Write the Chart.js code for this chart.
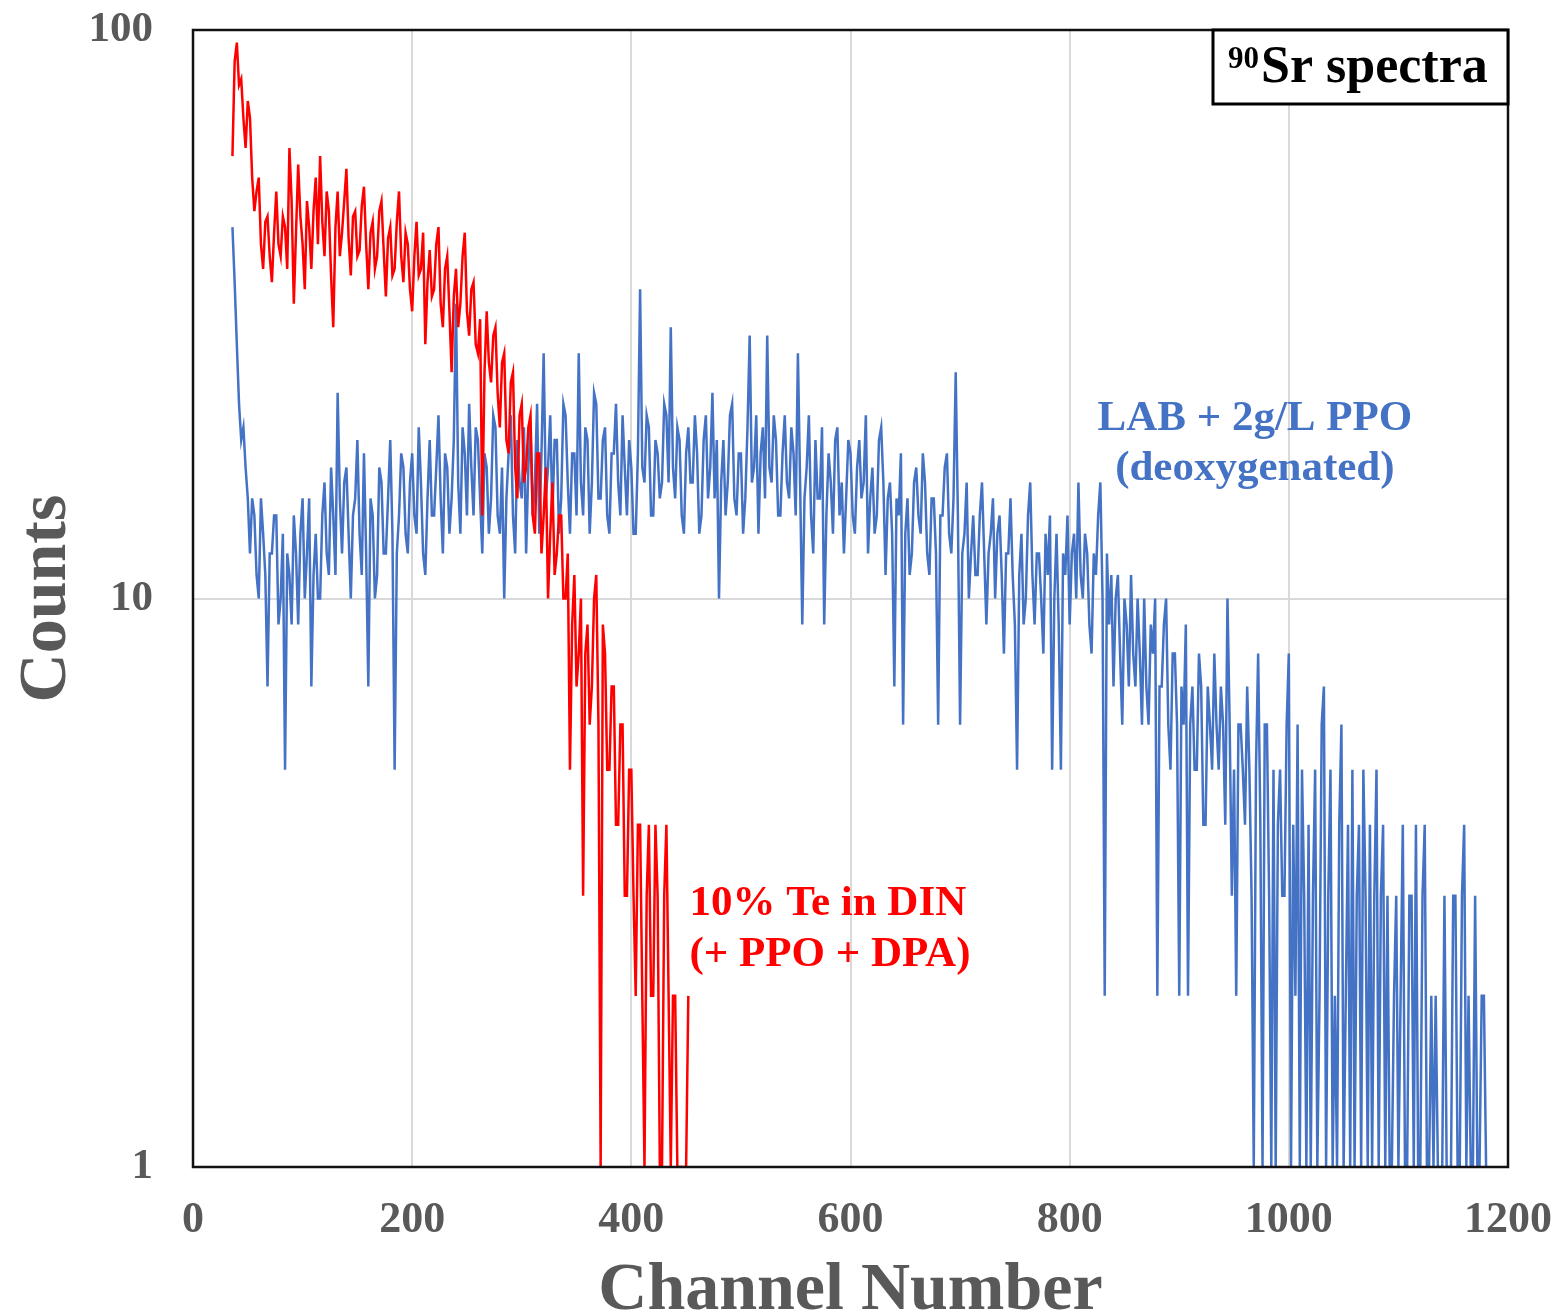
<!DOCTYPE html>
<html>
<head>
<meta charset="utf-8">
<script src="https://cdn.jsdelivr.net/npm/chart.js@4/dist/chart.umd.min.js"></script>
<style>
  body { margin: 0; background: #fff; }
  #wrap { width: 1558px; height: 1313px; }
</style>
</head>
<body>
<div id="wrap"><canvas id="spectra"></canvas></div>
<script>
// 90Sr spectra — counts per channel (every 2nd channel)

const CH_STEP    = 2;
const BLUE_START = 36;
const RED_START  = 36;

const xTicks = [0, 200, 400, 600, 800, 1000, 1200];
const yTicks = [1, 10, 100];

// LAB + 2g/L PPO (deoxygenated), channels 36..1180
const blueCounts = [
  45, 36, 28, 22, 19, 20, 17, 15, 12, 15, 14, 11, 10, 15, 13, 11, 7, 12, 12, 14,
  14, 9, 10, 13, 5, 12, 11, 9, 14, 12, 9, 13, 15, 10, 12, 15, 7, 11, 13, 10,
  10, 14, 16, 12, 11, 17, 14, 11, 23, 15, 12, 16, 17, 13, 10, 14, 15, 19, 13, 11,
  18, 12, 7, 15, 14, 10, 11, 17, 16, 12, 12, 15, 19, 13, 5, 12, 14, 18, 17, 13,
  12, 16, 18, 14, 13, 20, 16, 12, 11, 15, 19, 14, 14, 17, 21, 15, 12, 18, 17, 13,
  15, 19, 33, 16, 13, 20, 18, 14, 22, 17, 14, 20, 19, 15, 12, 18, 17, 13, 15, 21,
  20, 14, 13, 17, 10, 15, 18, 21, 14, 12, 19, 16, 15, 20, 12, 17, 20, 14, 16, 22,
  13, 18, 27, 15, 17, 21, 14, 19, 19, 13, 15, 22, 21, 16, 13, 18, 18, 14, 27, 16,
  14, 20, 19, 13, 16, 23, 22, 15, 15, 19, 20, 14, 13, 18, 18, 22, 16, 14, 21, 17,
  14, 19, 17, 13, 13, 18, 35, 17, 16, 21, 20, 14, 14, 19, 18, 15, 16, 22, 21, 16,
  30, 17, 15, 20, 19, 14, 13, 18, 20, 16, 16, 21, 18, 13, 14, 19, 21, 15, 17, 23,
  15, 19, 10, 16, 19, 14, 16, 21, 22, 15, 14, 18, 18, 13, 15, 20, 29, 16, 17, 21,
  13, 18, 20, 15, 29, 17, 16, 21, 19, 14, 14, 18, 21, 16, 15, 20, 18, 14, 27, 16,
  9, 15, 17, 21, 14, 12, 19, 15, 15, 20, 9, 14, 18, 16, 13, 19, 20, 14, 16, 12,
  15, 19, 18, 14, 13, 17, 19, 15, 16, 21, 12, 15, 17, 13, 14, 19, 20, 16, 11, 15,
  16, 13, 7, 15, 14, 18, 6, 13, 15, 11, 12, 16, 17, 14, 13, 18, 16, 12, 11, 15,
  15, 12, 6, 14, 14, 17, 18, 13, 12, 15, 25, 14, 6, 12, 13, 16, 10, 12, 14, 11,
  11, 14, 16, 12, 9, 12, 13, 15, 10, 13, 14, 11, 8, 12, 12, 15, 11, 9, 5, 11,
  13, 9, 10, 14, 16, 11, 9, 12, 12, 10, 8, 13, 11, 14, 5, 10, 13, 9, 5, 12,
  11, 14, 9, 12, 13, 10, 16, 11, 10, 13, 12, 9, 8, 12, 11, 14, 16, 10, 2, 12,
  9, 11, 7, 10, 11, 8, 6, 10, 9, 7, 11, 8, 7, 10, 8, 6, 10, 7, 6, 9,
  8, 10, 2, 7, 7, 9, 10, 6, 5, 8, 8, 6, 2, 7, 6, 9, 2, 6, 7, 5,
  5, 8, 7, 4, 4, 7, 6, 5, 8, 6, 5, 7, 6, 4, 10, 6, 3, 5, 2, 6,
  6, 5, 4, 7, 5, 3, 1, 5, 8, 4, 1, 6, 6, 3, 1, 5, 1, 4, 5, 3,
  3, 6, 8, 1, 4, 2, 6, 1, 5, 3, 1, 4, 1, 3, 5, 1, 2, 6, 7, 1,
  3, 5, 1, 2, 1, 4, 6, 1, 2, 4, 1, 5, 1, 3, 4, 1, 5, 3, 1, 4,
  1, 3, 5, 1, 3, 4, 1, 3, 1, 1, 2, 3, 1, 2, 4, 1, 1, 3, 3, 1,
  4, 1, 1, 3, 4, 1, 1, 2, 1, 2, 1, 1, 1, 3, 1, 1, 1, 3, 3, 1,
  1, 3, 4, 1, 2, 1, 1, 3, 1, 1, 2, 2, 1
];

// 10% Te in DIN (+ PPO + DPA), channels 36..452
const redCounts = [
  60, 88, 95, 80, 82, 70, 62, 75, 70, 55, 48, 52, 55, 42, 38, 46, 47, 40, 36, 44,
  52, 42, 40, 47, 45, 38, 62, 50, 33, 44, 58, 47, 42, 35, 50, 45, 38, 48, 55, 42,
  60, 46, 40, 52, 48, 37, 30, 45, 52, 40, 44, 50, 57, 43, 37, 47, 48, 40, 41, 49,
  53, 42, 35, 44, 46, 38, 40, 48, 50, 41, 34, 43, 45, 37, 38, 46, 52, 40, 36, 44,
  42, 35, 32, 40, 46, 37, 38, 44, 28, 36, 41, 34, 35, 42, 45, 33, 30, 38, 40, 32,
  25, 34, 38, 30, 33, 40, 44, 32, 29, 35, 36, 28, 27, 31, 14, 25, 32, 26, 24, 29,
  30, 23, 20, 26, 27, 19, 18, 24, 25, 17, 15, 21, 22, 16, 17, 20, 21, 14, 13, 18,
  18, 12, 14, 17, 10, 13, 16, 11, 12, 14, 14, 10, 10, 12, 5, 9, 11, 7, 8, 10,
  3, 8, 9, 6, 7, 10, 11, 6, 1, 9, 8, 5, 5, 7, 7, 4, 4, 6, 6, 3,
  3, 5, 5, 3, 2, 4, 4, 2, 1, 3, 4, 2, 2, 4, 3, 1, 1, 3, 4, 2,
  1, 2, 2, 1, 1, 1, 1, 1, 2
];

const FONT   = '"Liberation Serif", "Times New Roman", serif';
const GREY   = '#595959';
const BLUE   = '#4472C4';
const RED    = '#FF0000';

function toPoints(start, counts) {
  return counts.map((c, i) => ({ x: start + i * CH_STEP, y: c }));
}

// frame, "90Sr spectra" box and the two series notes
const decorations = {
  id: 'decorations',
  afterDraw(chart) {
    const { ctx, chartArea: a, scales: { x, y } } = chart;
    ctx.save();

    ctx.strokeStyle = '#111';
    ctx.lineWidth   = 2.5;
    ctx.strokeRect(a.left, a.top, a.right - a.left, a.bottom - a.top);

    // ── label box
    const bw = 295, bh = 74;
    const bx = a.right - bw, by = a.top;
    ctx.fillStyle = '#fff';
    ctx.fillRect(bx, by, bw, bh);
    ctx.lineWidth = 3;
    ctx.strokeStyle = '#000';
    ctx.strokeRect(bx, by, bw, bh);
    ctx.fillStyle = '#000';
    ctx.textAlign = 'left';
    ctx.textBaseline = 'alphabetic';
    ctx.font = 'bold 31px ' + FONT;
    ctx.fillText('90', bx + 15, by + 38);
    ctx.font = 'bold 52px ' + FONT;
    ctx.fillText('Sr spectra', bx + 48, by + 52);

    // ── series notes
    ctx.font = 'bold 43px ' + FONT;
    ctx.textBaseline = 'middle';
    ctx.fillStyle = BLUE;
    ctx.textAlign = 'center';
    ctx.fillText('LAB + 2g/L PPO', x.getPixelForValue(969), y.getPixelForValue(20.7));
    ctx.fillText('(deoxygenated)', x.getPixelForValue(969), y.getPixelForValue(16.9));
    ctx.fillStyle = RED;
    ctx.textAlign = 'left';
    ctx.fillText('10% Te in DIN', x.getPixelForValue(453), y.getPixelForValue(2.9));
    ctx.fillText('(+ PPO + DPA)', x.getPixelForValue(453), y.getPixelForValue(2.36));

    ctx.restore();
  }
};

new Chart(document.getElementById('spectra'), {
  type: 'line',
  data: {
    datasets: [
      {
        label      : '10% Te in DIN (+ PPO + DPA)',
        data       : toPoints(RED_START, redCounts),
        borderColor: RED,
        borderWidth: 2.5,
        pointRadius: 0,
        tension    : 0
      },
      {
        label      : 'LAB + 2g/L PPO (deoxygenated)',
        data       : toPoints(BLUE_START, blueCounts),
        borderColor: BLUE,
        borderWidth: 2.5,
        pointRadius: 0,
        tension    : 0
      }
    ]
  },
  options: {
    responsive: true,
    maintainAspectRatio: false,
    animation: false,
    layout: { padding: { top: 30, right: 50, bottom: 0, left: 0 } },
    plugins: {
      legend : { display: false },
      tooltip: { enabled: false }
    },
    scales: {
      x: {
        type: 'linear',
        min : 0,
        max : 1200,
        afterFit: s => { s.height = 146; },
        afterBuildTicks: s => { s.ticks = xTicks.map(v => ({ value: v })); },
        // invisible tick marks give the label offset without extra auto padding
        grid  : { color: '#d9d9d9', lineWidth: 2, drawTicks: true, tickLength: 27, tickColor: 'rgba(0,0,0,0)' },
        border: { display: false },
        ticks : {
          color: GREY,
          padding: 0,
          maxRotation: 0,
          callback: v => String(v),
          font: { family: FONT, size: 44, weight: 'bold' }
        },
        title: {
          display: true,
          text   : 'Channel Number',
          color  : GREY,
          padding: 0,
          font   : { family: FONT, size: 68, weight: 'bold', lineHeight: 0.62 }
        }
      },
      y: {
        type: 'logarithmic',
        min : 1,
        max : 100,
        afterFit: s => { s.width = 193; },
        afterBuildTicks: s => { s.ticks = yTicks.map(v => ({ value: v })); },
        grid  : { color: '#d9d9d9', lineWidth: 2, drawTicks: true, tickLength: 40, tickColor: 'rgba(0,0,0,0)' },
        border: { display: false },
        ticks : {
          color: GREY,
          padding: 0,
          callback: v => String(v),
          font: { family: FONT, size: 43, weight: 'bold' }
        },
        title: {
          display: true,
          text   : 'Counts',
          color  : GREY,
          padding: { top: 20, bottom: 0 },
          font   : { family: FONT, size: 68, weight: 'bold', lineHeight: 0.8 }
        }
      }
    }
  },
  plugins: [decorations]
});
</script>
</body>
</html>
